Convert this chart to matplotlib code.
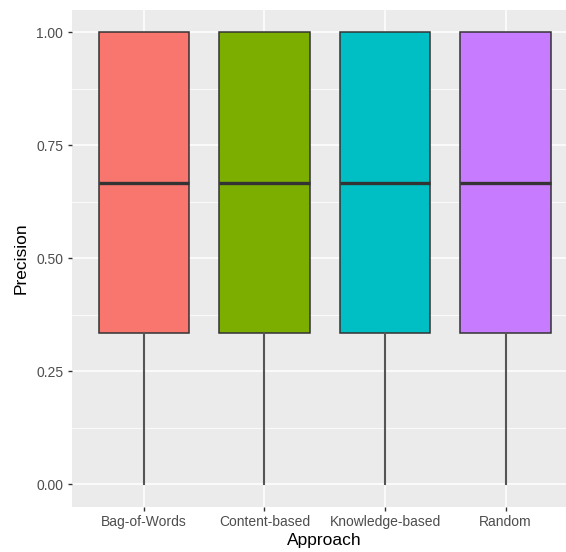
import matplotlib.pyplot as plt
from matplotlib.ticker import MultipleLocator

plt.rcParams['font.family'] = ['Liberation Sans', 'DejaVu Sans']

approaches = ["Bag-of-Words", "Content-based", "Knowledge-based", "Random"]
colors = ["#F8766D", "#7CAE00", "#00BFC4", "#C77CFF"]

# five-number summaries per approach: min, q1, median, q3, max
mins = [0.0, 0.0, 0.0, 0.0]
q1s = [1/3, 1/3, 1/3, 1/3]
medians = [2/3, 2/3, 2/3, 2/3]
q3s = [1.0, 1.0, 1.0, 1.0]
maxs = [1.0, 1.0, 1.0, 1.0]

stats = []
for name, lo, a, m, b, hi in zip(approaches, mins, q1s, medians, q3s, maxs):
    stats.append({"label": name, "whislo": lo, "q1": a, "med": m,
                  "q3": b, "whishi": hi, "fliers": []})

fig = plt.figure(figsize=(5.66, 5.52), dpi=100)
W, H = 566, 552
ax = fig.add_axes([71.5 / W, (H - 506.6) / H, (578 - 71.5) / W, 497 / H])
ax.set_facecolor("#EBEBEB")

positions = list(range(1, len(approaches) + 1))
bp = ax.bxp(stats, positions=positions, widths=0.75, patch_artist=True,
            showcaps=False,
            boxprops=dict(edgecolor="#333333", linewidth=1.1),
            medianprops=dict(color="#333333", linewidth=2.4),
            whiskerprops=dict(color="#555555", linewidth=1.5))
for box, c in zip(bp["boxes"], colors):
    box.set_facecolor(c)

ax.set_xlim(0.4, 4.6)
ax.set_ylim(-0.05, 1.05)
ax.yaxis.set_major_locator(MultipleLocator(0.25))
ax.yaxis.set_minor_locator(MultipleLocator(0.125))
ax.set_yticks([0, 0.25, 0.5, 0.75, 1.0])
ax.set_yticklabels(["0.00", "0.25", "0.50", "0.75", "1.00"])
ax.set_xticks(positions)
ax.set_xticklabels(approaches)

ax.grid(which="major", color="white", linewidth=1.1)
ax.grid(which="minor", axis="y", color="white", linewidth=0.55)
ax.set_axisbelow(True)
for s in ax.spines.values():
    s.set_visible(False)

ax.tick_params(axis="both", which="major", length=3, width=1, color="#333333",
               labelcolor="#4D4D4D", labelsize=10, pad=3)
ax.tick_params(axis="y", which="minor", length=0)

ax.set_xlabel("Approach", fontsize=12.5, labelpad=3)
ax.set_ylabel("Precision", fontsize=12.5, labelpad=5)

fig.savefig("out.png", dpi=100)
